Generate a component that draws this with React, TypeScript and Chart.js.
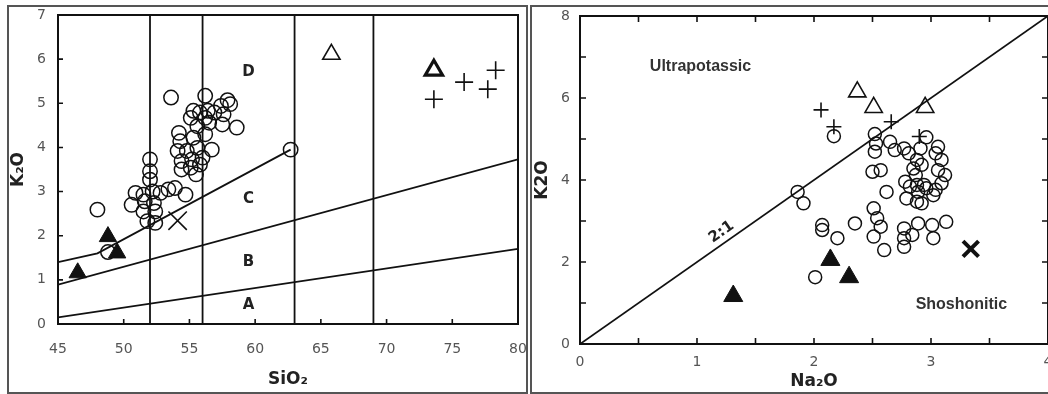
import React, { useEffect, useRef } from 'react';
import { Chart, registerables } from 'chart.js';
Chart.register(...registerables);

// ---------- Left panel data (SiO2 vs K2O) ----------
const leftCircleSiO2 = [53.6, 56.2, 57.9, 58.1, 57.4, 55.3, 55.8, 56.4, 56.9, 55.1, 56.2, 57.6, 58.6, 57.5, 56.5, 55.6, 54.2, 54.3, 56.2, 55.3, 54.1, 54.8, 55.6, 56.7, 54.4, 55.2, 56.0, 55.8, 55.1, 54.4, 55.5, 52.0, 52.0, 52.0, 50.9, 51.5, 52.2, 52.8, 53.4, 53.9, 54.7, 50.6, 51.6, 52.3, 51.5, 52.4, 51.8, 52.4, 48.0, 48.8, 62.7];
const leftCircleK2O = [5.13, 5.17, 5.07, 4.98, 4.94, 4.83, 4.79, 4.83, 4.79, 4.67, 4.67, 4.75, 4.45, 4.52, 4.56, 4.48, 4.33, 4.14, 4.30, 4.22, 3.92, 3.92, 3.99, 3.95, 3.69, 3.73, 3.77, 3.61, 3.54, 3.50, 3.39, 3.73, 3.46, 3.27, 2.97, 2.93, 3.00, 2.97, 3.05, 3.08, 2.93, 2.70, 2.78, 2.74, 2.55, 2.55, 2.33, 2.29, 2.59, 1.63, 3.95];
const leftFilledTriSiO2 = [46.5, 48.8, 49.5];
const leftFilledTriK2O = [1.16, 1.98, 1.61];
const leftOpenTriSiO2 = [65.8];
const leftOpenTriK2O = [6.11];
const leftBoldTriSiO2 = [73.6];
const leftBoldTriK2O = [5.75];
const leftCrossSiO2 = [73.6, 75.9, 77.7, 78.3];
const leftCrossK2O = [5.09, 5.48, 5.32, 5.75];
const leftXSiO2 = [54.1];
const leftXK2O = [2.34];

// boundary lines
const lineAB_SiO2 = [45, 80];
const lineAB_K2O = [0.15, 1.7];
const lineBC_SiO2 = [45, 80];
const lineBC_K2O = [0.89, 3.73];
const lineCD_SiO2 = [45, 48, 62.7];
const lineCD_K2O = [1.4, 1.6, 3.95];
const verticalSiO2 = [52, 56, 63, 69];

// ---------- Right panel data (Na2O vs K2O) ----------
const rightCircleNa2O = [2.17, 2.52, 2.53, 2.52, 2.65, 2.69, 2.77, 2.81, 2.96, 2.91, 3.06, 3.04, 3.09, 2.88, 2.85, 2.92, 3.06, 3.12, 2.87, 3.09, 2.78, 2.82, 2.88, 2.94, 2.89, 2.96, 3.04, 2.79, 2.88, 2.92, 3.02, 2.50, 2.57, 2.62, 1.86, 1.91, 2.07, 2.07, 2.20, 2.35, 2.51, 2.54, 2.57, 2.51, 2.60, 2.77, 2.77, 2.77, 2.84, 2.89, 3.01, 3.02, 3.13, 2.01];
const rightCircleK2O = [5.07, 5.12, 4.89, 4.69, 4.93, 4.73, 4.77, 4.65, 5.04, 4.77, 4.81, 4.65, 4.49, 4.49, 4.28, 4.37, 4.24, 4.12, 4.12, 3.92, 3.96, 3.84, 3.88, 3.88, 3.71, 3.80, 3.76, 3.55, 3.47, 3.43, 3.63, 4.20, 4.24, 3.71, 3.71, 3.43, 2.90, 2.78, 2.58, 2.94, 3.31, 3.07, 2.86, 2.62, 2.29, 2.82, 2.58, 2.37, 2.66, 2.94, 2.90, 2.58, 2.98, 1.63];
const rightFilledTriNa2O = [1.31, 2.14, 2.30];
const rightFilledTriK2O = [1.17, 2.05, 1.63];
const rightOpenTriNa2O = [2.37, 2.51, 2.95];
const rightOpenTriK2O = [6.15, 5.77, 5.77];
const rightCrossNa2O = [2.06, 2.17, 2.66, 2.90];
const rightCrossK2O = [5.71, 5.30, 5.42, 5.06];
const rightXNa2O = [3.34];
const rightXK2O = [2.32];
const ratioLineNa2O = [0, 4];
const ratioLineK2O = [0, 8];

const FONT = 'DejaVu Sans';
const TICK_COLOR = '#555';
const INK = '#111';

function pts(xs: number[], ys: number[]) {
  return xs.map((x, i) => ({ x, y: ys[i] }));
}

function lineDs(xs: number[], ys: number[], width = 1.8) {
  return {
    data: pts(xs, ys),
    showLine: true,
    pointRadius: 0,
    borderColor: INK,
    borderWidth: width,
    fill: false,
    order: 20,
  };
}

function markerDs(xs: number[], ys: number[], style: string, radius: number, width: number, filled: boolean, order: number) {
  return {
    data: pts(xs, ys),
    showLine: false,
    pointStyle: style,
    pointRadius: radius,
    pointHoverRadius: radius,
    pointBorderWidth: width,
    borderWidth: width,
    pointBorderColor: INK,
    borderColor: INK,
    pointBackgroundColor: filled ? INK : 'rgba(0,0,0,0)',
    backgroundColor: filled ? INK : 'rgba(0,0,0,0)',
    order,
  };
}

type TextItem = { t: string; x: number; y: number; font: string; color: string; angleFrom?: [number, number, number, number] };

function makeFramePlugin(tickLen: number, mirror: boolean, texts: TextItem[]) {
  return {
    id: 'frameTicks',
    afterDatasetsDraw(chart: any) {
      const { ctx, chartArea: a } = chart;
      const x = chart.scales.x;
      const y = chart.scales.y;
      ctx.save();
      ctx.strokeStyle = INK;
      ctx.lineWidth = 2;
      ctx.strokeRect(a.left, a.top, a.right - a.left, a.bottom - a.top);
      ctx.lineWidth = 1.6;
      ctx.beginPath();
      x.ticks.forEach((t: any) => {
        if (t.value <= x.min || t.value >= x.max) return;
        const px = x.getPixelForValue(t.value);
        ctx.moveTo(px, a.bottom);
        ctx.lineTo(px, a.bottom - tickLen);
        if (mirror) {
          ctx.moveTo(px, a.top);
          ctx.lineTo(px, a.top + tickLen);
        }
      });
      y.ticks.forEach((t: any) => {
        if (t.value <= y.min || t.value >= y.max) return;
        const py = y.getPixelForValue(t.value);
        ctx.moveTo(a.left, py);
        ctx.lineTo(a.left + tickLen, py);
        if (mirror) {
          ctx.moveTo(a.right, py);
          ctx.lineTo(a.right - tickLen, py);
        }
      });
      ctx.stroke();
      ctx.textAlign = 'center';
      ctx.textBaseline = 'middle';
      texts.forEach((it) => {
        const px = x.getPixelForValue(it.x);
        const py = y.getPixelForValue(it.y);
        ctx.save();
        ctx.translate(px, py);
        if (it.angleFrom) {
          const [x0, y0, x1, y1] = it.angleFrom;
          const ang = Math.atan2(y.getPixelForValue(y1) - y.getPixelForValue(y0), x.getPixelForValue(x1) - x.getPixelForValue(x0));
          ctx.rotate(ang);
        }
        ctx.font = it.font;
        ctx.fillStyle = it.color;
        ctx.fillText(it.t, 0, 0);
        ctx.restore();
      });
      ctx.restore();
    },
  };
}

function axisTitle(text: string, padding: any) {
  return {
    display: true,
    text,
    color: '#222',
    font: { family: FONT, size: 17, weight: 'bold' as const },
    padding,
  };
}

function fixSize(prop: 'width' | 'height', value: number) {
  return (s: any) => {
    s[prop] = value;
    s.paddingLeft = 0;
    s.paddingRight = 0;
    s.paddingTop = 0;
    s.paddingBottom = 0;
  };
}

const noGrid = { display: false, drawTicks: false, tickLength: 0 };

export default function App() {
  const leftRef = useRef<HTMLCanvasElement>(null);
  const rightRef = useRef<HTMLCanvasElement>(null);

  useEffect(() => {
    const leftDatasets: any[] = [
      lineDs(lineAB_SiO2, lineAB_K2O),
      lineDs(lineBC_SiO2, lineBC_K2O),
      lineDs(lineCD_SiO2, lineCD_K2O),
      ...verticalSiO2.map((v) => lineDs([v, v], [0, 7])),
      markerDs(leftCircleSiO2, leftCircleK2O, 'circle', 7.2, 1.5, false, 10),
      markerDs(leftXSiO2, leftXK2O, 'crossRot', 13, 1.6, false, 5),
      markerDs(leftFilledTriSiO2, leftFilledTriK2O, 'triangle', 10, 1, true, 4),
      markerDs(leftOpenTriSiO2, leftOpenTriK2O, 'triangle', 10, 1.6, false, 4),
      markerDs(leftBoldTriSiO2, leftBoldTriK2O, 'triangle', 10, 3.2, false, 4),
      markerDs(leftCrossSiO2, leftCrossK2O, 'cross', 9, 1.6, false, 4),
    ];
    const leftTexts: TextItem[] = [
      { t: 'D', x: 59.5, y: 5.7, font: `bold 15px "${FONT}"`, color: '#222' },
      { t: 'C', x: 59.5, y: 2.84, font: `bold 15px "${FONT}"`, color: '#222' },
      { t: 'B', x: 59.5, y: 1.41, font: `bold 15px "${FONT}"`, color: '#222' },
      { t: 'A', x: 59.5, y: 0.43, font: `bold 15px "${FONT}"`, color: '#222' },
    ];
    const left = new Chart(leftRef.current as HTMLCanvasElement, {
      type: 'scatter',
      data: { datasets: leftDatasets },
      options: {
        animation: false,
        responsive: false,
        events: [],
        layout: { autoPadding: false, padding: { left: 0, right: 9, top: 9, bottom: 0 } },
        plugins: { legend: { display: false }, tooltip: { enabled: false } },
        scales: {
          x: {
            type: 'linear',
            min: 45,
            max: 80,
            ticks: { stepSize: 5, color: TICK_COLOR, font: { family: FONT, size: 14 }, padding: 17 },
            grid: noGrid,
            border: { display: false },
            title: axisTitle('SiO₂', { top: 0, bottom: 3 }),
            afterFit: fixSize('height', 69),
          },
          y: {
            type: 'linear',
            min: 0,
            max: 7,
            ticks: { stepSize: 1, color: TICK_COLOR, font: { family: FONT, size: 14 }, padding: 12 },
            grid: noGrid,
            border: { display: false },
            title: axisTitle('K₂O', { top: 0, bottom: 0 }),
            afterFit: fixSize('width', 50),
          },
        },
      } as any,
      plugins: [makeFramePlugin(5, false, leftTexts)],
    });

    const rightDatasets: any[] = [
      lineDs(ratioLineNa2O, ratioLineK2O),
      markerDs(rightCircleNa2O, rightCircleK2O, 'circle', 6.5, 1.5, false, 10),
      markerDs(rightXNa2O, rightXK2O, 'crossRot', 11, 4, false, 5),
      markerDs(rightFilledTriNa2O, rightFilledTriK2O, 'triangle', 11, 1, true, 4),
      markerDs(rightOpenTriNa2O, rightOpenTriK2O, 'triangle', 10, 1.6, false, 4),
      markerDs(rightCrossNa2O, rightCrossK2O, 'cross', 7.5, 1.6, false, 4),
    ];
    const rightTexts: TextItem[] = [
      { t: 'Ultrapotassic', x: 1.03, y: 6.76, font: 'bold 16px "Liberation Sans"', color: '#333' },
      { t: 'Shoshonitic', x: 3.26, y: 0.95, font: 'bold 16px "Liberation Sans"', color: '#333' },
      { t: '2:1', x: 1.21, y: 2.73, font: `bold 15px "${FONT}"`, color: '#222', angleFrom: [0, 0, 4, 8] },
    ];
    const right = new Chart(rightRef.current as HTMLCanvasElement, {
      type: 'scatter',
      data: { datasets: rightDatasets },
      options: {
        animation: false,
        responsive: false,
        events: [],
        layout: { autoPadding: false, padding: { left: 0, right: 28, top: 10, bottom: 0 } },
        plugins: { legend: { display: false }, tooltip: { enabled: false } },
        scales: {
          x: {
            type: 'linear',
            min: 0,
            max: 4,
            ticks: {
              stepSize: 0.5,
              color: TICK_COLOR,
              font: { family: FONT, size: 14 },
              padding: 10,
              callback: (v: any) => (Number.isInteger(v) ? String(v) : ''),
            },
            grid: noGrid,
            border: { display: false },
            title: axisTitle('Na₂O', { top: 0, bottom: 1.5 }),
            afterFit: fixSize('height', 49),
          },
          y: {
            type: 'linear',
            min: 0,
            max: 8,
            ticks: {
              stepSize: 1,
              color: TICK_COLOR,
              font: { family: FONT, size: 14 },
              padding: 10,
              callback: (v: any) => (v % 2 === 0 ? String(v) : ''),
            },
            grid: noGrid,
            border: { display: false },
            title: axisTitle('K2O', { top: 1, bottom: 0 }),
            afterFit: fixSize('width', 49),
          },
        },
      } as any,
      plugins: [makeFramePlugin(6, true, rightTexts)],
    });

    return () => {
      left.destroy();
      right.destroy();
    };
  }, []);

  return (
    <div style={{ position: 'absolute', left: 0, top: 0, width: 1048, height: 394, overflow: 'hidden', background: '#fff' }}>
      <div style={{ position: 'absolute', left: 7, top: 5, width: 521, height: 389, border: '2px solid #555', boxSizing: 'border-box' }} />
      <canvas ref={leftRef} width={519} height={387} style={{ position: 'absolute', left: 8, top: 6 }} />
      <div style={{ position: 'absolute', left: 530, top: 5, width: 600, height: 389, border: '2px solid #555', boxSizing: 'border-box' }} />
      <canvas ref={rightRef} width={545} height={387} style={{ position: 'absolute', left: 531, top: 6 }} />
    </div>
  );
}
